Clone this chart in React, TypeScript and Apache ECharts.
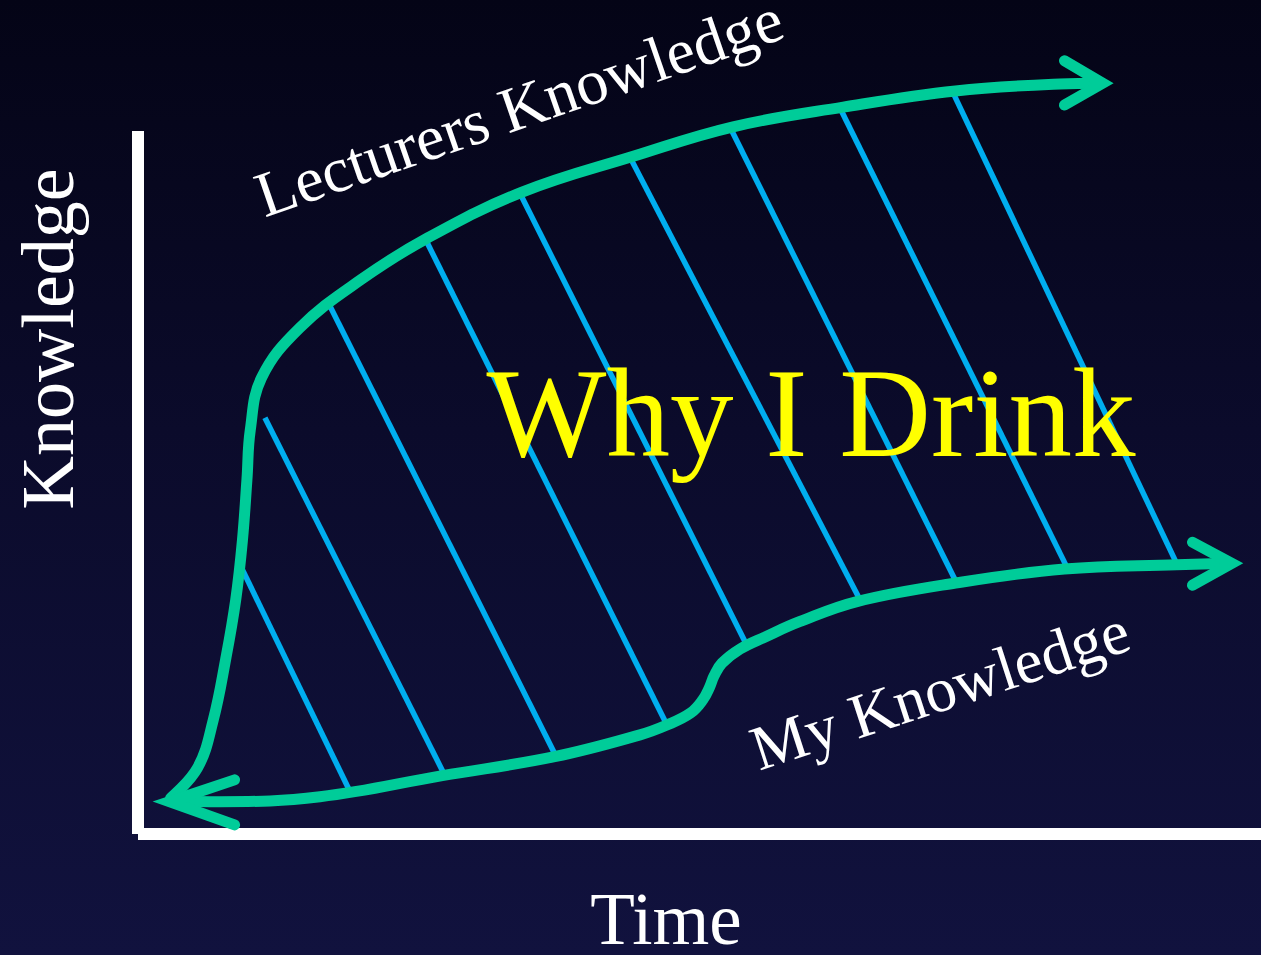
import React, { useEffect, useRef } from "react";
import * as echarts from "echarts";

// Time (0-100) vs Knowledge (0-100); curves may rise above the top of the axis
const lecturersKnowledge: [number, number][] = [
  [2.9, 5.1], [5.3, 9.4], [6.7, 16.2], [7.8, 24.8], [8.7, 33.3], [9.3, 41.8],
  [9.7, 50.4], [10.0, 57.5], [11.0, 64.9], [14.4, 72.0], [19.8, 78.8], [25.8, 84.8],
  [34.2, 91.3], [44.1, 96.4], [53.0, 100.6], [62.8, 103.4], [72.8, 105.7], [82.1, 106.7],
  [85.7, 106.8],
];

const myKnowledge: [number, number][] = [
  [3.0, 4.7], [7.3, 4.6], [16.2, 5.3], [27.1, 8.3], [37.1, 11.0], [44.7, 14.1],
  [47.1, 15.5], [49.2, 17.2], [50.3, 19.1], [50.9, 20.9], [51.3, 22.5], [52.0, 24.3],
  [53.6, 26.3], [55.8, 28.0], [58.9, 30.2], [64.1, 33.1], [72.8, 35.7], [82.5, 37.7],
  [92.5, 38.3], [97.2, 38.5],
];

const arrowTopRight: [number, number][] = [[82.5, 110.0], [85.9, 106.8], [82.5, 103.7]];
const arrowRight: [number, number][] = [[93.9, 41.5], [97.4, 38.5], [93.9, 35.4]];
const arrowBottomLeft: [number, number][] = [[8.6, 7.7], [2.8, 4.6], [8.6, 1.3]];

const hatchStarts: [number, number][] = [
  [9.3, 37.6], [11.3, 59.2], [16.9, 75.7], [25.6, 84.6], [33.9, 91.5],
  [43.8, 96.3], [52.7, 100.6], [62.5, 103.3], [72.5, 105.7],
];
const hatchEnds: [number, number][] = [
  [18.8, 6.3], [27.3, 8.4], [37.3, 10.8], [47.1, 15.5], [54.2, 26.9],
  [64.3, 33.3], [72.9, 35.7], [82.7, 38.0], [92.6, 38.1],
];

const xAxisTitle = "Time";
const yAxisTitle = "Knowledge";
const upperLabel = "Lecturers Knowledge";
const lowerLabel = "My Knowledge";
const headline = "Why I Drink";

const GREEN = "#00cc99";
const BLUE = "#00aeef";
const SERIF = "'Liberation Serif', 'Times New Roman', serif";

function textEl(
  text: string,
  x: number,
  y: number,
  size: number,
  color: string,
  rotation = 0,
  lineHeight = size
) {
  return {
    type: "text",
    x,
    y,
    rotation,
    z: 20,
    style: {
      text,
      fill: color,
      font: `${size}px ${SERIF}`,
      lineHeight,
      align: "center",
      verticalAlign: "middle",
      textAlign: "center",
      textVerticalAlign: "middle",
    },
  };
}

export default function App() {
  const ref = useRef<HTMLDivElement>(null);

  useEffect(() => {
    if (!ref.current) return;
    const chart = echarts.init(ref.current, undefined, { renderer: "svg" });

    const curveStyle = { color: GREEN, width: 11, cap: "round", join: "round" };
    const arrowStyle = { color: GREEN, width: 11, cap: "round", join: "miter", miterLimit: 10 };

    const hatchSeries = hatchStarts.map((s, i) => ({
      name: `hatch${i}`,
      type: "line",
      data: [s, hatchEnds[i]],
      symbol: "none",
      clip: false,
      silent: true,
      z: 2,
      lineStyle: { color: BLUE, width: 5.5, cap: "butt" },
    }));

    const axisCommon = {
      type: "value",
      min: 0,
      max: 100,
      axisLine: { show: true, lineStyle: { color: "#ffffff", width: 12, cap: "butt" } },
      axisTick: { show: false },
      axisLabel: { show: false },
      splitLine: { show: false },
    };

    const option: any = {
      animation: false,
      backgroundColor: "transparent",
      grid: { left: 138, top: 131, right: 0, bottom: 121, containLabel: false },
      xAxis: { ...axisCommon },
      yAxis: { ...axisCommon },
      series: [
        ...hatchSeries,
        {
          name: upperLabel,
          type: "line",
          data: lecturersKnowledge,
          smooth: 0.4,
          symbol: "none",
          clip: false,
          z: 3,
          lineStyle: curveStyle,
        },
        {
          name: lowerLabel,
          type: "line",
          data: myKnowledge,
          smooth: 0.4,
          symbol: "none",
          clip: false,
          z: 3,
          lineStyle: curveStyle,
        },
        ...[arrowTopRight, arrowRight, arrowBottomLeft].map((a, i) => ({
          name: `arrow${i}`,
          type: "line",
          data: a,
          symbol: "none",
          clip: false,
          z: 4,
          lineStyle: arrowStyle,
        })),
      ],
      graphic: [
        textEl(yAxisTitle, 48, 339, 74, "#ffffff", Math.PI / 2, 60),
        textEl(xAxisTitle, 666, 919, 73, "#ffffff", 0, 50),
        textEl(headline, 811, 413, 127, "#ffff00", 0, 110),
        textEl(upperLabel, 519, 107, 64, "#ffffff", (19 * Math.PI) / 180, 42),
        textEl(lowerLabel, 940, 690, 63, "#ffffff", (18 * Math.PI) / 180, 42),
      ],
    };

    chart.setOption(option);
    return () => chart.dispose();
  }, []);

  return (
    <div
      ref={ref}
      style={{
        position: "fixed",
        left: 0,
        top: 0,
        width: 1261,
        height: 955,
        background: "linear-gradient(to bottom, #040416 0%, #0b0b2b 45%, #11123e 100%)",
      }}
    />
  );
}
